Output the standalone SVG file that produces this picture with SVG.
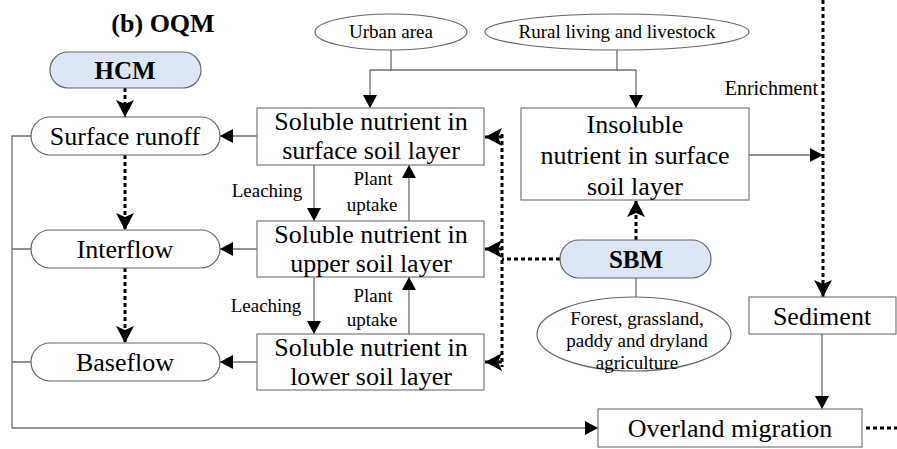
<svg xmlns="http://www.w3.org/2000/svg" width="897" height="449" viewBox="0 0 897 449">
<defs>
<style>
text{font-family:'Liberation Serif','Times New Roman',serif;fill:#000;text-anchor:middle;dominant-baseline:central}
.big{font-size:26px}
.sm{font-size:19px}
.b{font-weight:bold}
.box{fill:#fff;stroke:#7a7a7a;stroke-width:1.2}
.pill{fill:#fff;stroke:#666;stroke-width:1.2}
.mod{fill:#dde6f4;stroke:#666;stroke-width:1.2}
.ln{fill:none;stroke:#6e6e6e;stroke-width:1.3}
.dot{fill:none;stroke:#000;stroke-width:3;stroke-dasharray:4 3}
</style>
<marker id="a" markerUnits="userSpaceOnUse" markerWidth="16" markerHeight="16" refX="13" refY="7" orient="auto">
<path d="M0,0 L13,7 L0,14 z" fill="#000"/>
</marker>
<marker id="d" markerUnits="userSpaceOnUse" markerWidth="20" markerHeight="20" refX="17" refY="9" orient="auto">
<path d="M0,0 L17,9 L0,18 L4,9 z" fill="#000"/>
</marker>
</defs>
<rect width="897" height="449" fill="#fff"/>
<text class="b" x="163" y="23" font-size="26">(b) OQM</text>

<g id="connectors">
<path class="ln" d="M391,50 V70 M617,50 V70 M370,70 H636"/>
<path class="ln" d="M370,70 V108" marker-end="url(#a)"/>
<path class="ln" d="M636,70 V108" marker-end="url(#a)"/>
<path class="ln" d="M257,136 H220" marker-end="url(#a)"/>
<path class="ln" d="M257,249 H220" marker-end="url(#a)"/>
<path class="ln" d="M257,362 H220" marker-end="url(#a)"/>
<path class="ln" d="M314,165 V221" marker-end="url(#a)"/>
<path class="ln" d="M409,221 V165" marker-end="url(#a)"/>
<path class="ln" d="M314,277 V334" marker-end="url(#a)"/>
<path class="ln" d="M409,334 V277" marker-end="url(#a)"/>
<path class="ln" d="M31,136 H12 V428 M12,249 H31 M12,362 H31"/>
<path class="ln" d="M12,428 H598" marker-end="url(#a)"/>
<path class="dot" d="M125,88 V117" marker-end="url(#d)"/>
<path class="dot" d="M125,155 V230" marker-end="url(#d)"/>
<path class="dot" d="M125,268 V343" marker-end="url(#d)"/>
<path class="dot" d="M560,259 H502"/>
<path class="dot" d="M502,134 V367"/>
<path class="dot" d="M502,137 H485" marker-end="url(#d)"/>
<path class="dot" d="M502,249 H485" marker-end="url(#d)"/>
<path class="dot" d="M502,362 H485" marker-end="url(#d)"/>
<path class="dot" d="M636,240 V200" marker-end="url(#d)"/>
<path class="ln" d="M636,278 V297"/>
<path class="ln" d="M749,155 H823" marker-end="url(#a)"/>
<path class="dot" d="M823,0 V297" marker-end="url(#d)"/>
<path class="ln" d="M822,334 V409" marker-end="url(#a)"/>
<path class="dot" d="M866,428 H897"/>
</g>

<g id="urban"><ellipse cx="391" cy="32" rx="76" ry="18" class="pill"/><text class="sm" x="391" y="31">Urban area</text></g>
<g id="rural"><ellipse cx="617" cy="32" rx="132" ry="18" class="pill"/><text class="sm" x="617" y="31">Rural living and livestock</text></g>

<g id="hcm"><rect x="50" y="52" width="151" height="36" rx="18" class="mod"/><text class="b" x="125" y="70" font-size="25">HCM</text></g>
<g id="surface-runoff"><rect x="31" y="117" width="189" height="38" rx="19" class="pill"/><text class="big" x="125" y="136">Surface runoff</text></g>
<g id="interflow"><rect x="31" y="230" width="189" height="38" rx="19" class="pill"/><text class="big" x="125" y="249">Interflow</text></g>
<g id="baseflow"><rect x="31" y="343" width="189" height="38" rx="19" class="pill"/><text class="big" x="125" y="362">Baseflow</text></g>

<g id="sol-surface"><rect x="257" y="108" width="227" height="57" class="box"/><text class="big" x="371" y="121">Soluble nutrient in</text><text class="big" x="371" y="150">surface soil layer</text></g>
<g id="sol-upper"><rect x="257" y="221" width="227" height="56" class="box"/><text class="big" x="371" y="234">Soluble nutrient in</text><text class="big" x="371" y="263">upper soil layer</text></g>
<g id="sol-lower"><rect x="257" y="334" width="227" height="56" class="box"/><text class="big" x="371" y="347">Soluble nutrient in</text><text class="big" x="371" y="376">lower soil layer</text></g>

<g id="labels">
<text class="sm" x="267" y="190">Leaching</text>
<text class="sm" x="373" y="178">Plant</text>
<text class="sm" x="372" y="204">uptake</text>
<text class="sm" x="266" y="305">Leaching</text>
<text class="sm" x="373" y="295">Plant</text>
<text class="sm" x="372" y="319">uptake</text>
<text x="818" y="88" font-size="20" style="text-anchor:end">Enrichment</text>
</g>

<g id="insoluble"><rect x="521" y="108" width="228" height="92" class="box"/><text class="big" x="635" y="124">Insoluble</text><text class="big" x="635" y="155">nutrient in surface</text><text class="big" x="635" y="186">soil layer</text></g>

<g id="sbm"><rect x="560" y="240" width="151" height="38" rx="19" class="mod"/><text class="b" x="636" y="259" font-size="25">SBM</text></g>
<g id="land"><ellipse cx="634" cy="334" rx="97" ry="37" class="pill"/><text class="sm" x="637" y="318">Forest, grassland,</text><text class="sm" x="637" y="340">paddy and dryland</text><text class="sm" x="637" y="362">agriculture</text></g>

<g id="sediment"><rect x="749" y="297" width="147" height="37" class="box"/><text class="big" x="822" y="316">Sediment</text></g>
<g id="overland"><rect x="598" y="409" width="264" height="38" class="box"/><text class="big" x="730" y="428">Overland migration</text></g>
</svg>
